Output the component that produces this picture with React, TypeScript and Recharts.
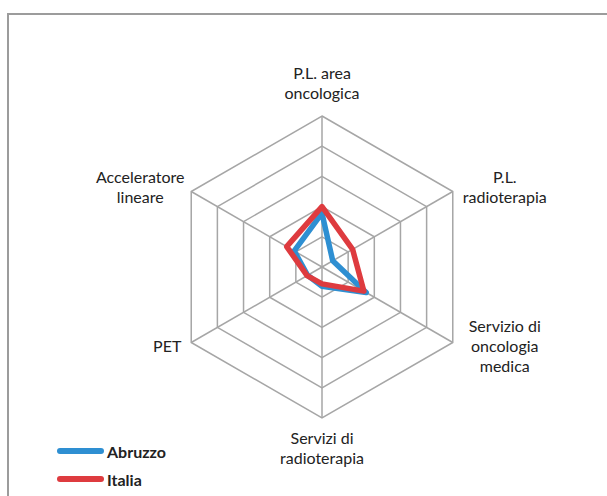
import React from 'react';
import {
  Legend,
  PolarAngleAxis,
  PolarGrid,
  PolarRadiusAxis,
  Radar,
  RadarChart,
} from 'recharts';

// Axis categories (line breaks as in the original labels)
const categories = [
  'P.L. area\noncologica',
  'P.L.\nradioterapia',
  'Servizio di\noncologia\nmedica',
  'Servizi di\nradioterapia',
  'PET',
  'Acceleratore\nlineare',
];

const abruzzo = [1.78, 0.41, 1.69, 0.64, 0.55, 1.06];
const italia = [2.0, 1.17, 1.6, 0.56, 0.57, 1.35];

const radiusTicks = [0, 1, 2, 3, 4, 5];

const data = categories.map((name, i) => ({
  name,
  Abruzzo: abruzzo[i],
  Italia: italia[i],
}));

const BLUE = '#2E8FD2';
const RED = '#DE3B3F';
const FONT = 'Lato, "Open Sans", sans-serif';

const CX = 322;
const CY = 267;
const R = 151;

// Category labels placed around the hexagon vertices
const AngleTick = ({ payload, x, y }: any) => {
  const lines = String(payload.value).split('\n');
  const dx = x - CX;
  const dy = y - CY;
  const len = Math.sqrt(dx * dx + dy * dy) || 1;
  const vx = CX + (dx / len) * R;
  const vy = CY + (dy / len) * R;
  const lh = 20;
  let tx = vx;
  let firstBase = 0;
  if (Math.abs(dx) < 2) {
    if (dy < 0) {
      firstBase = vy - 17 - (lines.length - 1) * lh;
    } else {
      firstBase = vy + 26;
    }
  } else {
    tx = dx > 0 ? vx + 52 : vx - 51;
    if (lines.length === 1 && dx < 0) tx = vx - 24;
    firstBase = vy - ((lines.length - 1) * lh) / 2 + 5 + (dy < 0 ? -4 : 4);
  }
  return (
    <text
      textAnchor="middle"
      fill="#222"
      fontSize={16}
      fontFamily={FONT}
    >
      {lines.map((l, i) => (
        <tspan key={i} x={tx} y={firstBase + i * lh}>
          {l}
        </tspan>
      ))}
    </text>
  );
};

const LegendContent = () => {
  const items = [
    { name: 'Abruzzo', color: BLUE },
    { name: 'Italia', color: RED },
  ];
  return (
    <div>
      {items.map((it) => (
        <div
          key={it.name}
          style={{ display: 'flex', alignItems: 'center', height: 28 }}
        >
          <div
            style={{
              width: 47,
              height: 6,
              borderRadius: 3,
              background: it.color,
              marginRight: 3,
            }}
          />
          <span
            style={{
              fontFamily: FONT,
              fontWeight: 700,
              fontSize: 16,
              color: '#222',
            }}
          >
            {it.name}
          </span>
        </div>
      ))}
    </div>
  );
};

export default function App() {
  return (
    <div style={{ position: 'absolute', left: 0, top: 0, width: 607, height: 496, background: '#fff', overflow: 'hidden' }}>
      <div
        style={{
          position: 'absolute',
          left: 7,
          top: 13,
          width: 640,
          height: 520,
          borderTop: '2px solid #9C9C9C',
          borderLeft: '2px solid #9C9C9C',
        }}
      />
      <div style={{ position: 'absolute', left: 0, top: 0 }}>
        <RadarChart
          width={607}
          height={496}
          data={data}
          cx={CX}
          cy={CY}
          outerRadius={R}
          margin={{ top: 0, right: 0, bottom: 0, left: 0 }}
        >
          <PolarGrid stroke="#A6A6A6" strokeWidth={1.5} />
          <PolarAngleAxis dataKey="name" tick={<AngleTick />} tickLine={false} />
          <PolarRadiusAxis
            domain={[0, 5]}
            ticks={radiusTicks as any}
            tickCount={6}
            axisLine={false}
            tick={false}
          />
          <Radar
            name="Abruzzo"
            dataKey="Abruzzo"
            stroke={BLUE}
            strokeWidth={5.5}
            strokeLinejoin="round"
            fill="none"
            fillOpacity={0}
            dot={false}
            isAnimationActive={false}
          />
          <Radar
            name="Italia"
            dataKey="Italia"
            stroke={RED}
            strokeWidth={5.5}
            strokeLinejoin="round"
            fill="none"
            fillOpacity={0}
            dot={false}
            isAnimationActive={false}
          />
          <Legend
            content={<LegendContent />}
            wrapperStyle={{ position: 'absolute', left: 57, top: 437, width: 150 }}
          />
        </RadarChart>
      </div>
    </div>
  );
}
